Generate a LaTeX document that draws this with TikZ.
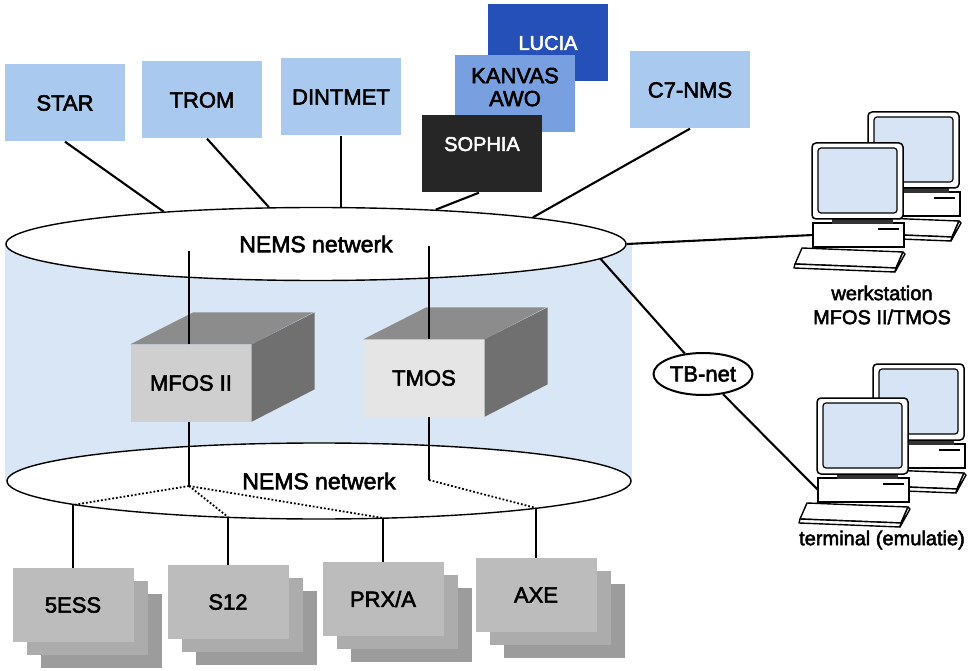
\documentclass[tikz,border=0pt]{standalone}
\usepackage{fontspec}
\setmainfont{Liberation Sans}[FakeBold=2.5]
\usetikzlibrary{positioning,shapes.geometric,backgrounds}

\definecolor{boxblue}{RGB}{170,201,238}
\definecolor{midblue}{RGB}{120,160,224}
\definecolor{darkblue}{RGB}{36,80,184}
\definecolor{nearblack}{RGB}{38,38,38}
\definecolor{cylblue}{RGB}{216,230,245}
\definecolor{screenblue}{RGB}{214,228,245}
\definecolor{cubetop}{RGB}{140,140,140}
\definecolor{cubeside}{RGB}{112,112,112}
\definecolor{sheeta}{RGB}{188,188,188}
\definecolor{sheetb}{RGB}{172,172,172}
\definecolor{sheetc}{RGB}{156,156,156}

\tikzset{
  sysbox/.style={fill=boxblue, minimum width=120, minimum height=77, inner sep=0,
    font=\fontsize{22}{23}\selectfont},
  net/.style={ellipse, draw, line width=1.4pt, fill=white, inner sep=0,
    font=\fontsize{23}{26}\selectfont},
  link/.style={line width=2.1pt},
  tap/.style={line width=1.8pt, dotted},
  front/.style={minimum width=121, minimum height=77, inner sep=0,
    font=\fontsize{22}{24}\selectfont},
  sheet/.style={minimum width=121, minimum height=74, inner sep=0,
    font=\fontsize{22}{24}\selectfont},
  caption/.style={font=\fontsize{20}{24}\selectfont, align=center},
  computer/.pic={
    % system unit with drive slot
    \draw[line width=1.5pt, fill=white] (1,80) rectangle (92,104);
    \draw[line width=2.2pt] (66,86) -- (87,86);
    % stand
    \fill[black!80] (20,74) rectangle (81,81);
    % monitor
    \draw[line width=1.5pt, fill=white, rounded corners=4] (0,0) rectangle (91,76);
    \draw[line width=1.2pt, fill=screenblue, rounded corners=3] (6,5) rectangle (85,70);
    % keyboard
    \draw[line width=1.4pt, fill=white, line join=round] (-10,105) -- (91,109) -- (84,125) -- (-17,121) -- cycle;
    \draw[line width=1.4pt, fill=white, line join=round] (-17,121) -- (84,125) -- (83,129) -- (-18,125) -- cycle;
    \draw[line width=1.4pt, fill=white, line join=round] (91,109) -- (93,111) -- (83,129) -- (84,125) -- cycle;
    \coordinate (-port) at (1,92);
  }
}

\begin{document}
\begin{tikzpicture}[x=1pt, y=-1pt]
    \useasboundingbox (0,0) rectangle (975,671);

    % systems on top
    \foreach \name/\x/\y/\txt in {star/65/103/STAR, trom/202/100/TROM, dintmet/341/97/DINTMET, c7nms/690/90/C7-NMS} {
        \node[sysbox] (\name) at (\x,\y) {\txt};
    }
    \node[sysbox, fill=darkblue, text=white, font=\fontsize{20}{22}\selectfont] (lucia) at (548,43) {LUCIA};
    \node[sysbox, fill=midblue, align=center, text depth=14pt] (kanvas) at (515,94) {KANVAS\\AWO};
    \node[sysbox, fill=nearblack, text=white, text depth=20pt, font=\fontsize{20}{22}\selectfont] (sophia) at (482,154) {SOPHIA};

    % the two networks
    \node[net, minimum width=620, minimum height=73] (nemstop) at (316,244) {\raisebox{-4pt}{NEMS netwerk}};
    \node[net, minimum width=624, minimum height=76] (nemsbot) at (319,481) {NEMS netwerk};
    \begin{scope}[on background layer]
        \fill[cylblue] (nemstop.west) rectangle (nemsbot.east);
    \end{scope}

    % operation systems as blocks
    \node[front, fill=black!19] (mfos) at (191,383) {MFOS II};
    \node[front, fill=black!10] (tmos) at (424,378) {TMOS};
    \foreach \cube in {mfos, tmos} {
        \fill[cubetop] (\cube.north west) -- ++(63,-32) -- ++(120,0) -- (\cube.north east) -- cycle;
        \fill[cubeside] (\cube.north east) -- ++(63,-32) -- ++(0,77) -- (\cube.south east) -- cycle;
    }

    % exchanges
    \foreach \name/\x/\y/\txt in {5ess/73/605/5ESS, s12/228/602/S12, prx/383/599/{PRX/A}, axe/536/595/AXE} {
        \node[sheet, fill=sheetc] (\name-3) at (\x+28,\y+26) {};
        \node[sheet, fill=sheetb] (\name-2) at (\x+14,\y+13) {};
        \node[sheet, fill=sheeta] (\name) at (\x,\y) {\txt};
    }

    % workstations and terminals
    \pic (wsback) at (868,112) {computer};
    \pic (ws) at (812,143) {computer};
    \pic (tmback) at (873,364) {computer};
    \pic (tm) at (817,398) {computer};
    \node[caption] (wslabel) at (882,305) {werkstation\\MFOS II/TMOS};
    \node[caption] (tmlabel) at (882,540) {terminal (emulatie)};

    \node[net, line width=2pt, minimum width=99, minimum height=42, font=\fontsize{22}{24}\selectfont] (tbnet) at (703,374) {TB-net};

    % links to the upper network
    \draw[link] (star.south) -- (nemstop.168);
    \draw[link] ([xshift=5pt]trom.south) -- (nemstop.142);
    \draw[link] (dintmet.south) -- (dintmet.south |- nemstop.north);
    \draw[link] ([xshift=-3pt]sophia.south) -- (nemstop.16);
    \draw[link] (c7nms.south) -- (nemstop.7.5);
    \draw[link] (nemstop.east) -- (ws-port);
    \draw[link] (nemstop.-3.3) -- (tbnet);
    \draw[link] (tbnet) -- (tm-port);
    \draw[link] ([xshift=-2pt]mfos.north) -- ++(0,-93);
    \draw[link] ([xshift=5pt]tmos.north) -- ++(0,-93);

    % links through the lower network
    \coordinate (jm) at (189,486);
    \coordinate (jt) at (429,480);
    \coordinate (t5ess) at (73,505);
    \coordinate (ts12) at (228,517);
    \coordinate (tprx) at (383,518);
    \coordinate (taxe) at (536,508);
    \draw[link] ([xshift=-2pt]mfos.south) -- (jm);
    \draw[link] ([xshift=5pt]tmos.south) -- (jt);
    \foreach \t in {t5ess, ts12, tprx} {
        \draw[tap] (jm) -- (\t);
    }
    \draw[tap] (jt) -- (taxe);
    \draw[link] (t5ess) -- (t5ess |- 5ess.north);
    \draw[link] (ts12) -- (ts12 |- s12.north);
    \draw[link] (tprx) -- (tprx |- prx.north);
    \draw[link] (taxe) -- (taxe |- axe.north);
\end{tikzpicture}
\end{document}
